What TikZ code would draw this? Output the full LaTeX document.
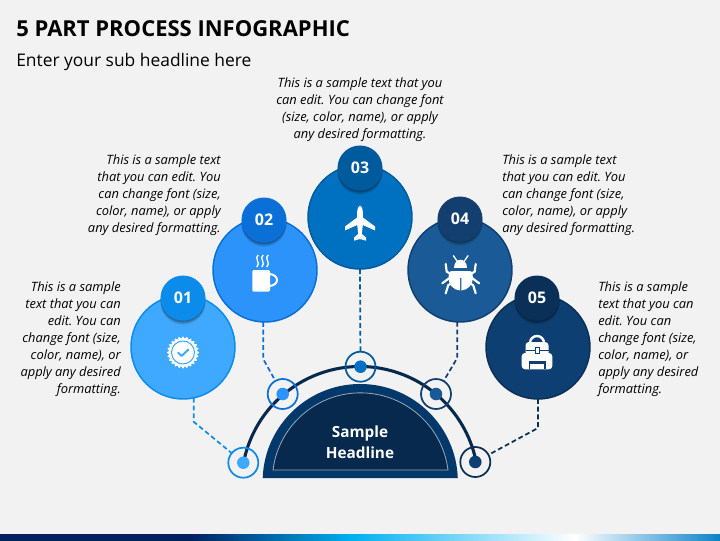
\documentclass[tikz,border=0pt]{standalone}
\usepackage{fontspec}
\setmainfont{Open Sans}
\usetikzlibrary{shadows}
\frenchspacing

\definecolor{paper}{HTML}{F2F2F2}
\definecolor{bluea}{HTML}{3FA9FF}
\definecolor{blueaa}{HTML}{0B8CEB}
\definecolor{blueb}{HTML}{2B93FA}
\definecolor{bluebb}{HTML}{0B6FD8}
\definecolor{bluec}{HTML}{0070C0}
\definecolor{bluecc}{HTML}{005A9E}
\definecolor{blued}{HTML}{1A5A96}
\definecolor{bluedd}{HTML}{123F70}
\definecolor{bluee}{HTML}{0D3F73}
\definecolor{blueee}{HTML}{0A3058}
\definecolor{navy}{HTML}{06294D}
\definecolor{navyrim}{HTML}{03386A}
\definecolor{stripa}{HTML}{002060}
\definecolor{stripb}{HTML}{00B0F0}
\definecolor{stripc}{HTML}{0A82C8}
\pgfdeclarehorizontalshading{stripshade}{100bp}{color(0bp)=(stripa); color(38.2bp)=(stripa); color(49.4bp)=(stripb); color(64.9bp)=(white); color(75bp)=(stripc); color(100bp)=(stripc)}

\begin{document}
\begin{tikzpicture}[
  x=.75pt, y=.75pt,
  big/.style={draw, circle, line width=1.1pt, minimum size=78pt, inner sep=0pt, outer sep=0pt},
  badge/.style={circle, minimum size=33.75pt, inner sep=0pt, text=white, font=\fontsize{12}{14}\selectfont\bfseries,
    drop shadow={shadow xshift=0pt, shadow yshift=-3pt, opacity=.14, fill=black},
    drop shadow={shadow xshift=0pt, shadow yshift=-1.6pt, opacity=.25, fill=black}},
  ring/.style={draw, circle, line width=1.3pt, minimum size=22.5pt, inner sep=0pt, outer sep=0pt},
  dot/.style={circle, minimum size=9.4pt, inner sep=0pt},
  link/.style={line width=1.3pt, dash pattern=on 3.6pt off 2.2pt},
  blurb/.style={font=\fontsize{9.65}{12.75}\selectfont\itshape, inner sep=0pt},
  leg/.style={draw=white, line width=1.6pt, line cap=round, line join=round}
]
\useasboundingbox (0,0) rectangle (720,540);
\fill[paper] (0,0) rectangle (720,540);

% Strip
\shade[shading=stripshade] (0,0) rectangle (720,6);

% Titles
\node[anchor=west, inner sep=0pt, font=\fontsize{16.5}{20}\selectfont\bfseries, text=black] (title) at (16,511.5) {5 PART PROCESS INFOGRAPHIC};
\node[anchor=west, inner sep=0pt, font=\fontsize{13.05}{16}\selectfont] (sub) at (16,478.5) {Enter your sub headline here};

% Circles
\node[big, fill=bluea, draw=blueaa] (c01) at (183,193) {};
\node[big, fill=blueb, draw=bluebb] (c02) at (265,270) {};
\node[big, fill=bluec, draw=bluecc] (c03) at (360,323) {};
\node[big, fill=blued, draw=bluedd] (c04) at (460,270) {};
\node[big, fill=bluee, draw=blueee] (c05) at (538,193) {};

\node[badge, fill=blueaa] (b01) at (183,242) {01};
\node[badge, fill=bluebb] (b02) at (264,320) {02};
\node[badge, fill=bluecc] (b03) at (360,372) {03};
\node[badge, fill=bluedd] (b04) at (460,321) {04};
\node[badge, fill=blueee] (b05) at (537,242) {05};

% Arc
\draw[navy, line width=2.3pt] (243.5,77) arc[start angle=169.3, end angle=10.7, radius=118.5];

% Headline
\fill[navyrim] (262.7,62) arc[start angle=177.9, end angle=2.1, radius=97.6] -- cycle;
\fill[navy, draw=white!60!navy, line width=.6pt] (273,70) arc[start angle=172.8, end angle=7.2, radius=88.2] -- cycle;
\node[align=center, text=white, font=\fontsize{11.5}{15.75}\selectfont\bfseries, inner sep=0pt] (head) at (360,98) {Sample\\Headline};

% Rings
\node[ring, draw=blueaa] (r01) at (243.3,77.3) {};
\node[ring, draw=bluebb] (r02) at (282.7,146) {};
\node[ring, draw=bluecc] (r03) at (360.5,173.3) {};
\node[ring, draw=bluedd] (r04) at (436,146) {};
\node[ring, draw=blueee] (r05) at (475.3,78) {};
\node[dot, fill=bluea] (d01) at (r01) {};
\node[dot, fill=blueb] (d02) at (r02) {};
\node[dot, fill=bluec] (d03) at (r03) {};
\node[dot, fill=blued] (d04) at (r04) {};
\node[dot, fill=bluee] (d05) at (r05) {};

% Links
\draw[link, blueaa] (c01.-78) -- ++(0,-24) -- (r01);
\draw[link, bluebb] (c02.-92) -- ++(0,-37) -- (r02);
\draw[link, bluecc] (c03.south) -- (r03);
\draw[link, bluedd] (c04.-93) -- ++(0,-36) -- (r04);
\draw[link, blueee] (c05.south) -- ++(0,-29) -- (r05);

% Texts
\node[blurb, align=right, anchor=east] (t01) at (121,201) {This is a sample\\text that you can\\edit. You can\\change font (size,\\color, name), or\\apply any desired\\formatting.};
\node[blurb, align=right, anchor=east] (t02) at (221,345) {This is a sample text\\that you can edit. You\\can change font (size,\\color, name), or apply\\any desired formatting.};
\node[blurb, align=center] (t03) at (360,430.5) {This is a sample text that you\\can edit. You can change font\\(size, color, name), or apply\\any desired formatting.};
\node[blurb, align=left, anchor=west] (t04) at (502,345) {This is a sample text\\that you can edit. You\\can change font (size,\\color, name), or apply\\any desired formatting.};
\node[blurb, align=left, anchor=west] (t05) at (598,201) {This is a sample\\text that you can\\edit. You can\\change font (size,\\color, name), or\\apply any desired\\formatting.};

% Icon 01
\begin{scope}[shift={(183,187.5)}]
  \fill[white] plot[domain=0:360, samples=145] (\x:{15+1*cos(24*\x)}) -- cycle;
  \draw[bluea, line width=.8pt] (0,0) circle[radius=11.5];
  \draw[bluea, line width=1.5pt, line cap=round, line join=round] (-5,0) -- (-1.5,-3.5) -- (5.5,3);
\end{scope}

% Icon 02
\fill[white, rounded corners=1pt] (252.3,248.3) rectangle (270,270);
\draw[white, line width=1.5pt] (269,266) arc[start angle=90, end angle=-90, x radius=8, y radius=6];
\foreach \sx in {257.5,262.5,267.5}
  \draw[white, line width=1pt] (\sx+.7,285) .. controls (\sx-4,282) and (\sx+4,277) .. (\sx-.7,273);

% Icon 03
\begin{scope}[shift={(360,0)}]
  \foreach \s in {1,-1}
    \fill[white, xscale=\s] (0,334.3) .. controls (1.8,334) and (2.9,331) .. (2.9,328) -- (2.9,322.5) -- (15,313.5) -- (15,309.5) -- (2.8,315) -- (1.8,306) -- (6,302.5) -- (6,299.3) -- (0,301) -- cycle;
\end{scope}

% Icon 04
\begin{scope}[shift={(460.7,0)}]
  \fill[white] (-6.5,272) .. controls (-6.5,283) and (6.5,283) .. (6.5,272) -- cycle;
  \fill[white] (-2,269) rectangle (2,262);
  \foreach \s in {1,-1} {
    \begin{scope}[xscale=\s]
      \draw[white, line width=1pt, line cap=round] (3,278) -- (7.3,284.3);
      \fill[white] (.7,269) -- (9,269) .. controls (12,269) and (12.2,265) .. (12.2,262) .. controls (12.2,255) and (7,250) .. (.7,249.5) -- cycle;
      \draw[leg] (15,276) -- (14,268.3) -- (8,265);
      \draw[leg] (18.4,256.7) -- (11.7,261.7) -- (8,261);
      \draw[leg] (15,246.7) -- (12.4,255) -- (9,256.5);
    \end{scope}
  }
\end{scope}

% Icon 05
\draw[white, line width=1.8pt] (530,189) -- (530,197) arc[start angle=180, end angle=0, radius=7] -- (544,189);
\fill[white, rounded corners=2.5pt] (525.5,180) rectangle (548.5,198);
\fill[white, rounded corners=2.5pt] (521.7,170.7) rectangle (552.3,187);
\draw[bluee, line width=.7pt] (525.5,190) -- (535,190) (539,190) -- (548.5,190);
\draw[bluee, line width=.7pt] (535,187) rectangle (539,192.5);
\fill[bluee] (528.5,170.7) rectangle (545.5,179);
\fill[white] (530,170.7) rectangle (544,176.5);

\end{tikzpicture}
\end{document}
